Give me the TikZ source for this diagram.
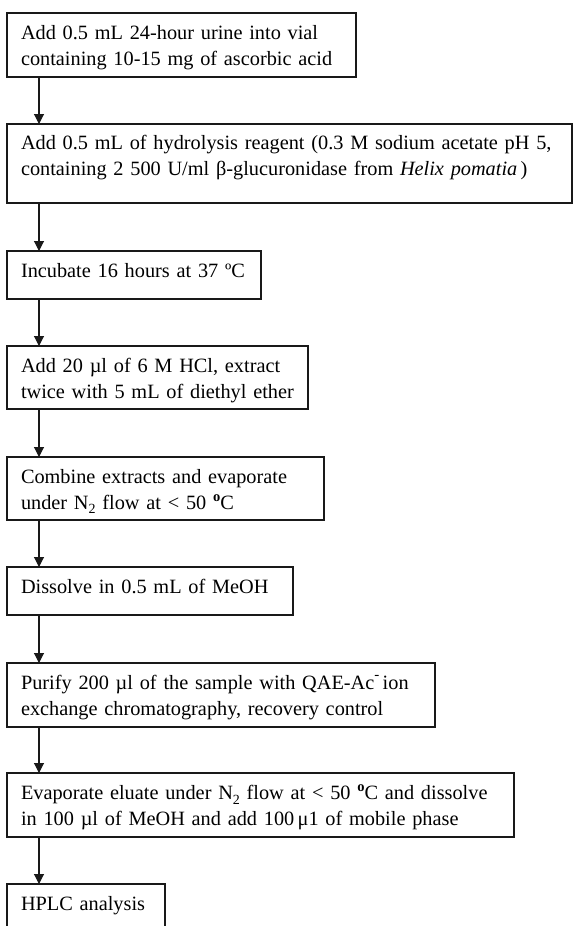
\documentclass[tikz,border=0pt]{standalone}
\usepackage{fontspec}
\setmainfont{Liberation Serif}
\usetikzlibrary{arrows.meta}
\newcommand{\degsup}{\raisebox{0.40em}{\fontsize{14.5}{14.5}\selectfont\textbf{o}}}
\newcommand{\subtwo}{\raisebox{-0.22em}{\fontsize{14}{14}\selectfont 2}}
\newcommand{\minussup}{\raisebox{0.5em}{\fontsize{15}{15}\selectfont -}}
\begin{document}
\begin{tikzpicture}[x=1pt,y=1pt,
  box/.style={draw=black!90, line width=1.1pt, rectangle, anchor=north west, outer sep=0pt,
    inner xsep=14pt, inner ysep=0pt, align=left,
    font=\fontsize{20.3}{26}\selectfont, text height=15pt},
  oneline/.style={text depth=9.6pt},
  twoline/.style={text depth=25.6pt},
  arr/.style={draw=black!90, line width=1.1pt, -{Triangle[length=10pt,width=10pt]}}]
\useasboundingbox (0,0) rectangle (573,-926);
\node[box, twoline, minimum width=349pt, minimum height=64pt, text width=321pt] (b1) at (7,-13)
  {\mbox{Add 0.5 mL 24-hour urine into vial}\\\mbox{containing 10-15 mg of ascorbic acid}};
\node[box, text depth=42.6pt, minimum width=565pt, minimum height=79pt, text width=537pt] (b2) at (7,-124)
  {\mbox{Add 0.5 mL of hydrolysis reagent (0.3 M sodium acetate pH 5,}\\\mbox{containing 2 500 U/ml β-glucuronidase from \textit{Helix pomatia}\,)}};
\node[box, oneline, minimum width=254pt, minimum height=48pt, text width=226pt] (b3) at (7,-251)
  {\mbox{Incubate 16 hours at 37 ºC}};
\node[box, twoline, minimum width=301pt, minimum height=63pt, text width=273pt] (b4) at (7,-346)
  {\mbox{Add 20 µl of 6 M HCl, extract}\\\mbox{twice with 5 mL of diethyl ether}};
\node[box, twoline, minimum width=317pt, minimum height=63pt, text width=289pt] (b5) at (7,-457)
  {\mbox{Combine extracts and evaporate}\\\mbox{under N\subtwo{} flow at < 50 \degsup C}};
\node[box, oneline, minimum width=286pt, minimum height=48pt, text width=258pt] (b6) at (7,-567)
  {\mbox{Dissolve in 0.5 mL of MeOH}};
\node[box, twoline, minimum width=428pt, minimum height=64pt, text width=400pt] (b7) at (7,-663)
  {\mbox{Purify 200 µl of the sample with QAE-Ac\minussup\,ion}\\\mbox{exchange chromatography, recovery control}};
\node[box, twoline, minimum width=507pt, minimum height=64pt, text width=479pt] (b8) at (7,-773)
  {\mbox{Evaporate eluate under N\subtwo{} flow at < 50 \degsup C and dissolve}\\\mbox{in 100 µl of MeOH and add 100\,μ1 of mobile phase}};
\node[box, oneline, minimum width=158pt, minimum height=48pt, text width=130pt] (b9) at (7,-884)
  {\mbox{HPLC analysis}};
\draw[arr] ([xshift=32pt]b1.south west) -- ([xshift=32pt]b2.north west);
\draw[arr] ([xshift=32pt]b2.south west) -- ([xshift=32pt]b3.north west);
\draw[arr] ([xshift=32pt]b3.south west) -- ([xshift=32pt]b4.north west);
\draw[arr] ([xshift=32pt]b4.south west) -- ([xshift=32pt]b5.north west);
\draw[arr] ([xshift=32pt]b5.south west) -- ([xshift=32pt]b6.north west);
\draw[arr] ([xshift=32pt]b6.south west) -- ([xshift=32pt]b7.north west);
\draw[arr] ([xshift=32pt]b7.south west) -- ([xshift=32pt]b8.north west);
\draw[arr] ([xshift=32pt]b8.south west) -- ([xshift=32pt]b9.north west);
\end{tikzpicture}
\end{document}
